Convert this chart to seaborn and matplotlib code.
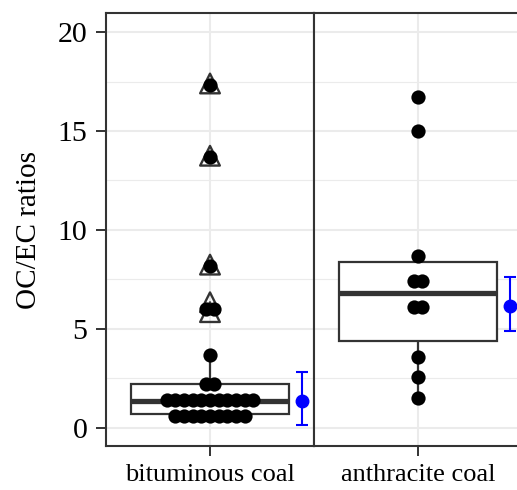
import numpy as np
import pandas as pd
from matplotlib import pyplot as plt
from matplotlib.ticker import MultipleLocator
import seaborn as sns

# categories / facets
categories = ["bituminous coal", "anthracite coal"]

# individual samples as drawn by the dot plot (binned values)
bituminous_dots = [17.3, 13.7, 8.2, 6.0, 6.0, 3.7, 2.2, 2.2,
                   1.4, 1.4, 1.4, 1.4, 1.4, 1.4, 1.4, 1.4, 1.4, 1.4, 1.4,
                   0.6, 0.6, 0.6, 0.6, 0.6, 0.6, 0.6, 0.6, 0.6]
anthracite_dots = [16.7, 15.0, 8.7, 7.4, 7.4, 6.1, 6.1, 3.6, 2.6, 1.5]

# box summary: lower whisker, q1, median, q3, upper whisker
bituminous_box = [0.6, 0.7, 1.35, 2.2, 3.7]
anthracite_box = [1.5, 4.4, 6.8, 8.4, 8.7]

# outliers (open triangles)
bituminous_outliers = [17.4, 13.75, 8.25, 6.35, 5.85]
anthracite_outliers = []

# mean with error range (blue)
mean_vals = [1.36, 6.16]
err_low = [0.15, 4.9]
err_high = [2.83, 7.63]

dots = [bituminous_dots, anthracite_dots]
boxes = [bituminous_box, anthracite_box]
outliers = [bituminous_outliers, anthracite_outliers]

sns.set_theme(style="white")
plt.rcParams['font.family'] = ['Liberation Serif', 'DejaVu Serif']

W, H = 517, 490
fig = plt.figure(figsize=(W / 100, H / 100), dpi=100)
ax1 = fig.add_axes([106 / W, 44 / H, 208 / W, 433 / H])
ax2 = fig.add_axes([314 / W, 44 / H, 208 / W, 433 / H], sharey=ax1)
axes = [ax1, ax2]

edge = "#333333"
grid = "#EBEBEB"


def dot_offsets(vals, step=0.05):
    # center each stack of equal values around the category
    vals = np.asarray(vals)
    xs = np.zeros(len(vals))
    for v in np.unique(vals):
        idx = np.where(vals == v)[0]
        n = len(idx)
        xs[idx] = (np.arange(n) - (n - 1) / 2) * step
    return xs


for i, ax in enumerate(axes):
    cat = categories[i]
    sns.boxplot(x=[cat] * 5, y=boxes[i], ax=ax, whis=np.inf, width=0.91,
                color="white", linecolor=edge, linewidth=1.6,
                showcaps=False, showfliers=False,
                medianprops=dict(linewidth=3.8, color=edge), zorder=2)

    if outliers[i]:
        sns.scatterplot(x=np.zeros(len(outliers[i])), y=outliers[i], ax=ax,
                        marker="^", s=200, facecolor="none", edgecolor=edge,
                        linewidth=1.7, zorder=3)

    sns.scatterplot(x=dot_offsets(dots[i]), y=dots[i], ax=ax, color="black",
                    s=105, linewidth=0, zorder=4)

    m = mean_vals[i]
    ax.errorbar([0.53], [m], yerr=[[m - err_low[i]], [err_high[i] - m]],
                fmt="o", color="blue", ms=9, capsize=4.3,
                elinewidth=1.5, capthick=1.5, zorder=5)

    ax.set_xlim(-0.6, 0.6)
    ax.set_ylim(-0.91, 20.96)
    ax.set_xticks([0])
    ax.set_xticklabels([cat], fontsize=19, color="black")
    ax.set_xlabel("")
    ax.set_ylabel("")

    ax.yaxis.set_major_locator(MultipleLocator(5))
    ax.yaxis.set_minor_locator(MultipleLocator(2.5))
    ax.grid(True, which="major", color=grid, linewidth=1.5, zorder=0)
    ax.grid(True, which="minor", axis="y", color=grid, linewidth=0.8, zorder=0)
    ax.set_axisbelow(True)

    for sp in ax.spines.values():
        sp.set_color(edge)
        sp.set_linewidth(1.5)

    ax.tick_params(axis="x", bottom=True, length=7, width=1.4, color=edge,
                   pad=6)
    ax.tick_params(axis="y", which="minor", left=False)

ax1.tick_params(axis="y", left=True, length=7, width=1.4, color=edge, pad=6.5,
                labelsize=21.5, labelcolor="black")
ax2.tick_params(axis="y", left=False, labelleft=False)
ax1.set_ylabel("OC/EC ratios", fontsize=21, color="black", labelpad=11)

fig.savefig("out.png", dpi=100)
